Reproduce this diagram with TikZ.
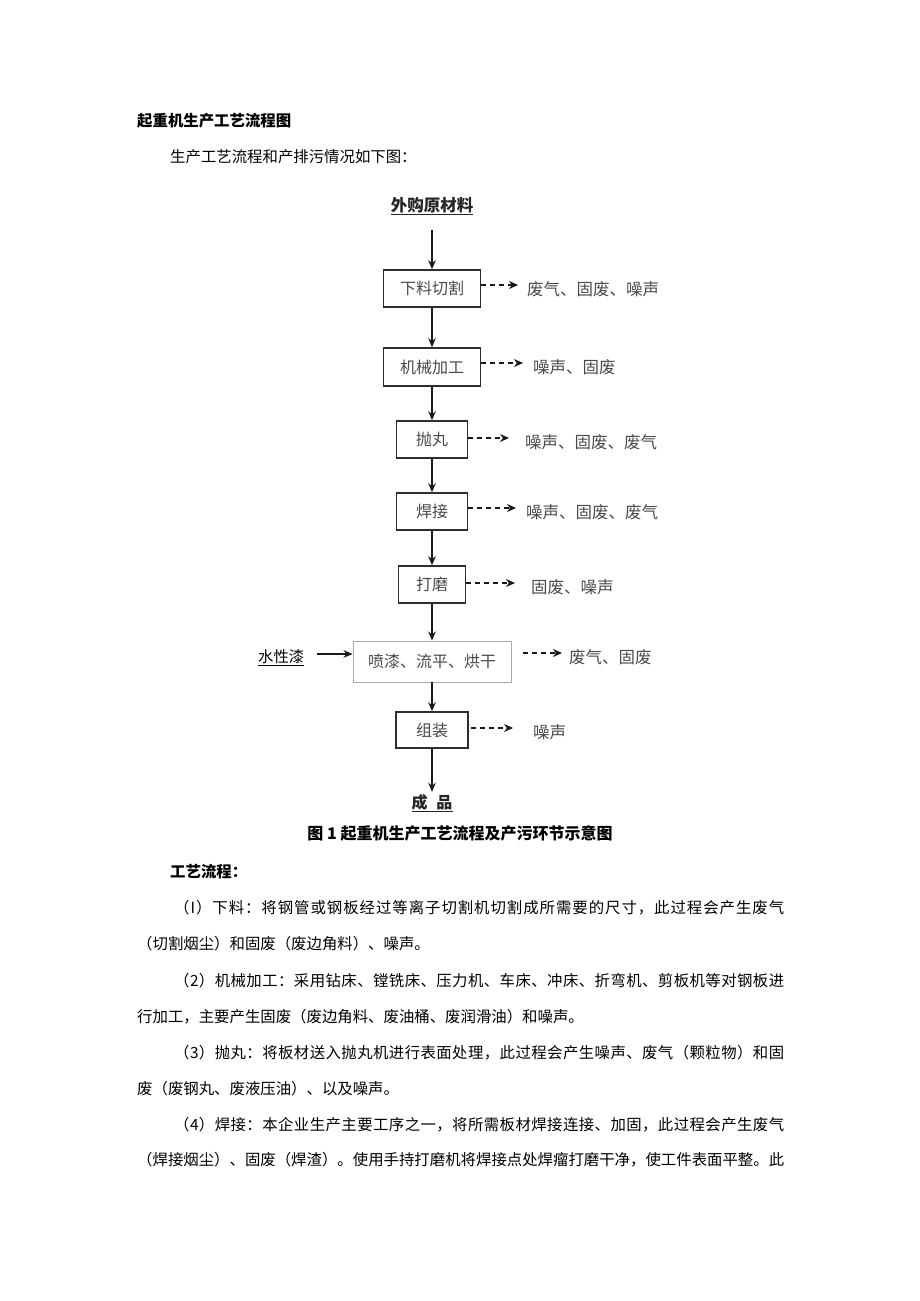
\documentclass[tikz,border=0pt]{standalone}
\usepackage{fontspec}
\setmainfont{Noto Sans CJK SC}
\usetikzlibrary{arrows.meta}
\makeatletter
\newcommand\spreadto[2]{\hbox to #1{\def\sp@sep{}\@tfor\sp@c:=#2\do{\sp@sep\sp@c\def\sp@sep{\hfill}}}}
\makeatother
\definecolor{boxtxt}{HTML}{4A4A4A}
\definecolor{boxline}{HTML}{2E2E2E}
\begin{document}
\begin{tikzpicture}[x=1pt,y=-1pt,
  proc/.style={draw=boxline, line width=1.5pt, text=boxtxt, font=\fontsize{16}{18}\selectfont, inner sep=0pt, minimum height=37pt},
  lbl/.style={anchor=west, inner sep=0pt, text=boxtxt, font=\fontsize{16.5}{18}\selectfont},
  arr/.style={line width=1.4pt, draw=black!90, -{Stealth[length=9pt,width=7.5pt]}},
  dsh/.style={line width=1.4pt, draw=black!90, dash pattern=on 5pt off 4pt, -{Stealth[length=9pt,width=8pt]}, transform canvas={yshift=4pt}},
  body/.style={anchor=west, inner sep=0pt, font=\fontsize{15.4}{18}\selectfont},
  bodyb/.style={anchor=west, inner sep=0pt, font=\bfseries\fontsize{15.4}{18}\selectfont}
]
\fill[white] (0,0) rectangle (920,1301);
\useasboundingbox (0,0) rectangle (920,1301);

% headings
\node[bodyb] (title) at (137,121) {起重机生产工艺流程图};
\node[body] (intro) at (170,157) {生产工艺流程和产排污情况如下图：};

% flowchart
\node[anchor=base, inner sep=0pt, text=black!85, font=\bfseries\fontsize{16.5}{18}\selectfont] (src) at (432,211) {\underline{外购原材料}};

\node[proc, minimum width=97pt] (b1) at (432,288.5) {下料切割};
\node[proc, minimum width=97pt, minimum height=38pt] (b2) at (432,367) {机械加工};
\node[proc, minimum width=71pt] (b3) at (432,439.5) {抛丸};
\node[proc, minimum width=71pt] (b4) at (432,511.5) {焊接};
\node[proc, minimum width=67pt] (b5) at (432,584.5) {打磨};
\node[proc, draw=gray!65, line width=0.9pt, minimum width=158pt, minimum height=41pt] (b6) at (432,661.5) {喷漆、流平、烘干};
\node[proc, minimum width=72pt, minimum height=36pt] (b7) at (432,730) {组装};

\node[anchor=base, inner sep=0pt, text=black!85, font=\bfseries\fontsize{16}{18}\selectfont] (fin) at (432,808) {\underline{成\hspace{9pt}品}};

\node[anchor=base west, inner sep=0pt, font=\fontsize{15.3}{18}\selectfont] (wp) at (258,662.8) {\underline{水性漆}};

\node[lbl] (l1) at (527,289) {废气、固废、噪声};
\node[lbl] (l2) at (533,367) {噪声、固废};
\node[lbl] (l3) at (525,442) {噪声、固废、废气};
\node[lbl] (l4) at (526,512) {噪声、固废、废气};
\node[lbl] (l5) at (531,587) {固废、噪声};
\node[lbl] (l6) at (569,657) {废气、固废};
\node[lbl] (l7) at (533,732) {噪声};

% solid connectors
\draw[arr, shorten <=15pt] (src) -- (b1);
\draw[arr] (b1) -- (b2);
\draw[arr] (b2) -- (b3);
\draw[arr] (b3) -- (b4);
\draw[arr] (b4) -- (b5);
\draw[arr] (b5) -- (b6);
\draw[arr] (b6) -- (b7);
\draw[arr, shorten >=2pt] (b7) -- (fin);
\draw[arr, shorten <=13pt, transform canvas={yshift=4pt}] (wp.east) -- (wp.east -| b6.west);

% dashed connectors
\draw[dsh, shorten >=9pt] (b1.east |- l1.west) -- (l1.west);
\draw[dsh, shorten >=10pt] (b2.east |- l2.west) -- (l2.west);
\draw[dsh, shorten >=16pt] (b3.east |- l3.west) -- (l3.west);
\draw[dsh, shorten >=10pt] (b4.east |- l4.west) -- (l4.west);
\draw[dsh, shorten >=16pt] (b5.east |- l5.west) -- (l5.west);
\draw[dsh, shorten <=12pt, shorten >=7pt] (b6.east |- l6.west) -- (l6.west);
\draw[dsh, shorten <=2pt, shorten >=20pt] (b7.east |- l7.west) -- (l7.west);

% caption
\node[anchor=base, inner sep=0pt, font=\bfseries\fontsize{16}{18}\selectfont] (cap) at (460,839) {图 1 起重机生产工艺流程及产污环节示意图};

% body text
\node[bodyb] (h2) at (170,872) {工艺流程：};
\node[body] (p1a) at (174,908) {\spreadto{610pt}{（I）下料：将钢管或钢板经过等离子切割机切割成所需要的尺寸，此过程会产生废气}};
\node[body] (p1b) at (137,944) {（切割烟尘）和固废（废边角料）、噪声。};
\node[body] (p2a) at (174,981) {\spreadto{610pt}{（2）机械加工：采用钻床、镗铣床、压力机、车床、冲床、折弯机、剪板机等对钢板进}};
\node[body] (p2b) at (137,1017) {行加工，主要产生固废（废边角料、废油桶、废润滑油）和噪声。};
\node[body] (p3a) at (174,1053) {\spreadto{610pt}{（3）抛丸：将板材送入抛丸机进行表面处理，此过程会产生噪声、废气（颗粒物）和固}};
\node[body] (p3b) at (137,1089) {废（废钢丸、废液压油）、以及噪声。};
\node[body] (p4a) at (174,1125) {\spreadto{610pt}{（4）焊接：本企业生产主要工序之一，将所需板材焊接连接、加固，此过程会产生废气}};
\node[body] (p4b) at (137,1160) {\spreadto{647pt}{（焊接烟尘）、固废（焊渣）。使用手持打磨机将焊接点处焊瘤打磨干净，使工件表面平整。此}};
\end{tikzpicture}
\end{document}
